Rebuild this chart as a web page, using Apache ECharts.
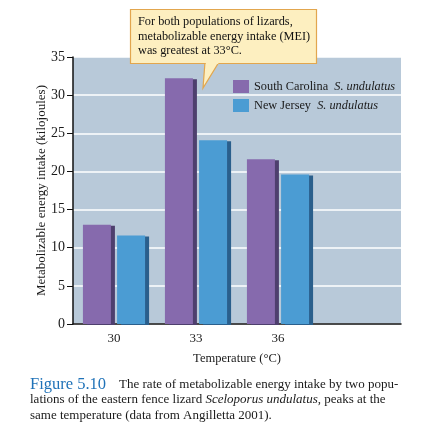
<!DOCTYPE html>
<html lang="en">
<head>
<meta charset="UTF-8">
<title>Figure 5.10</title>
<script src="https://cdn.jsdelivr.net/npm/echarts@6/dist/echarts.min.js"></script>
<style>
  html, body { margin: 0; padding: 0; background: #fff; }
</style>
</head>
<body>
<div id="main" style="width: 436px;height: 442px"></div>
<script>
    // data
    let temps = ['30', '33', '36']
    let southCarolina = [13.0, 32.2, 21.6]
    let newJersey = [11.6, 24.1, 19.6]
    let yTicks = [0, 5, 10, 15, 20, 25, 30, 35]

    let serif = '"Liberation Serif", "DejaVu Serif", serif'
    let calloutLines = [
        'For both populations of lizards,',
        'metabolizable energy intake (MEI)',
        'was greatest at 33°C.'
    ]

    let mycharts = echarts.init(document.getElementById('main'))

    mycharts.setOption({
        animation: false,
        textStyle: { fontFamily: serif },
        grid: {
            left: 73, right: 35, top: 57, bottom: 118,
            show: true, backgroundColor: '#b8c9d9', borderWidth: 0
        },
        legend: {
            left: 228, top: 75,
            orient: 'vertical',
            itemWidth: 16, itemHeight: 13, itemGap: 6,
            icon: 'rect',
            data: ['South Carolina', 'New Jersey'],
            formatter: function (name) {
                return '{n|' + name + '}  {i|S. undulatus}'
            },
            textStyle: {
                color: '#1a1a1a',
                fontFamily: serif,
                fontSize: 12.3,
                rich: {
                    n: { fontFamily: serif, fontSize: 12.3, color: '#1a1a1a' },
                    i: { fontFamily: serif, fontSize: 12.3, color: '#1a1a1a', fontStyle: 'italic' }
                }
            }
        },
        xAxis: {
            type: 'category',
            data: temps.concat(['']),
            name: 'Temperature (°C)',
            nameLocation: 'middle',
            nameGap: 28,
            nameMoveOverlap: false,
            nameTextStyle: { fontFamily: serif, fontSize: 12.5, color: '#1a1a1a' },
            axisLine: { lineStyle: { color: '#111', width: 1.5 } },
            axisTick: {
                alignWithLabel: true,
                length: 5,
                interval: function (i) { return i < temps.length },
                lineStyle: { color: '#111' }
            },
            axisLabel: { interval: 0, fontFamily: serif, fontSize: 13, color: '#1a1a1a', margin: 8 },
            splitLine: { show: false }
        },
        yAxis: {
            type: 'value',
            min: yTicks[0],
            max: yTicks[yTicks.length - 1],
            interval: 5,
            name: 'Metabolizable energy intake (kilojoules)',
            nameLocation: 'middle',
            nameGap: 25,
            nameMoveOverlap: false,
            nameTextStyle: { fontFamily: serif, fontSize: 13, color: '#1a1a1a' },
            axisLine: { show: true, lineStyle: { color: '#111', width: 1.5 } },
            axisTick: { show: true, length: 6, lineStyle: { color: '#111' } },
            axisLabel: { fontFamily: serif, fontSize: 14, color: '#1a1a1a', margin: 8 },
            splitLine: { lineStyle: { color: '#fff', width: 1.5 } }
        },
        series: [{
            name: 'South Carolina',
            type: 'bar',
            barWidth: 28,
            barGap: '22%',
            itemStyle: {
                color: '#866aad',
                shadowColor: '#4e3f6e',
                shadowOffsetX: 4,
                shadowOffsetY: 1,
                shadowBlur: 0
            },
            data: southCarolina
        }, {
            name: 'New Jersey',
            type: 'bar',
            barWidth: 28,
            itemStyle: {
                color: '#4b9cd3',
                shadowColor: '#2a5f8c',
                shadowOffsetX: 4,
                shadowOffsetY: 1,
                shadowBlur: 0
            },
            data: newJersey
        }],
        graphic: [{
            type: 'polygon',
            shape: { points: [[205, 62], [219, 62], [203, 88]] },
            style: { fill: '#fdefc0', stroke: '#e2a64e', lineWidth: 1.2 },
            z: 100
        }, {
            type: 'rect',
            shape: { x: 130.5, y: 9.5, width: 186, height: 54 },
            style: { fill: '#fdefc0', stroke: '#e2a64e', lineWidth: 1.2 },
            z: 101
        }, {
            type: 'rect',
            shape: { x: 205.8, y: 62, width: 12.5, height: 2 },
            style: { fill: '#fdefc0' },
            z: 102
        }, {
            type: 'text',
            left: 138, top: 15,
            style: {
                text: calloutLines.join('\n'),
                font: '12.3px ' + serif,
                lineHeight: 14.5,
                fill: '#111'
            },
            z: 103
        }, {
            type: 'text',
            left: 30, top: 376,
            style: {
                text: '{f|Figure 5.10}    The rate of metabolizable energy intake by two popu-\n' +
                      'lations of the eastern fence lizard {i|Sceloporus undulatus}, peaks at the\n' +
                      'same temperature (data from Angilletta 2001).',
                font: '13px ' + serif,
                lineHeight: 15.5,
                fill: '#1a1a1a',
                rich: {
                    f: { font: '16.5px ' + serif, fill: '#1f72b8', lineHeight: 15.5 },
                    i: { font: 'italic 13px ' + serif, fill: '#1a1a1a', lineHeight: 15.5 }
                }
            }
        }]
    })
</script>
</body>
</html>
